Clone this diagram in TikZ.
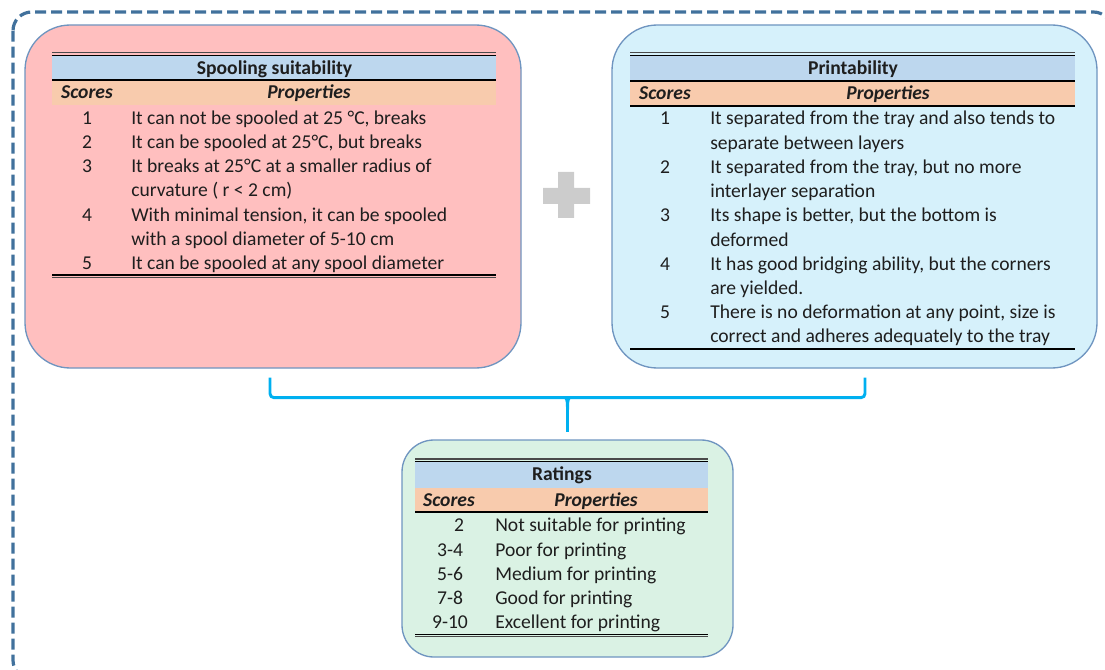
\documentclass[tikz,border=0pt]{standalone}
\usepackage{fontspec}
\setmainfont{Carlito}
\usepackage{tikz}
\usetikzlibrary{fit,calc}
\usepackage{xcolor}
\definecolor{frameblue}{HTML}{41719C}
\definecolor{edgeblue}{HTML}{6F95C0}
\definecolor{spoolbg}{HTML}{FFBFBF}
\definecolor{printbg}{HTML}{D6F1FB}
\definecolor{ratebg}{HTML}{DAF2E4}
\definecolor{titlebar}{HTML}{BDD7EE}
\definecolor{headbar}{HTML}{F8CBAD}
\definecolor{plusgray}{HTML}{CCCCCC}
\definecolor{bracecyan}{HTML}{00B0F0}
\definecolor{rulegray}{HTML}{4A4A4A}
\definecolor{dtext}{HTML}{1E1E1E}

\tikzset{
  frameline/.style={frameblue,line width=2.4pt,dash pattern=on 8.25pt off 3.75pt,rounded corners=14pt},
  panel/.style={draw=edgeblue,line width=1pt,inner sep=0pt},
  cell/.style={inner sep=0pt,anchor=base,text=dtext,font=\fontsize{14.7}{18}\selectfont},
  titlecell/.style={cell,font=\fontsize{14.7}{18}\selectfont\bfseries},
  headcell/.style={cell,font=\fontsize{14.7}{18}\selectfont\bfseries\itshape},
  propcell/.style={cell,anchor=base west},
  thinrule/.style={black,line width=0.9pt},
  greyrule/.style={rulegray,line width=0.9pt},
  bracestroke/.style={bracecyan,line width=2.2pt,rounded corners=3pt}
}

\begin{document}
\begin{tikzpicture}[x=0.75pt,y=-0.75pt]
        \useasboundingbox (0,0) rectangle (1105,670);
        \begin{scope}
          \clip (0,0) rectangle (1105,670);
          \draw[frameline] (13,12) rectangle (1112,679);
        \end{scope}

        % panels
        \node[panel,fill=spoolbg,rounded corners=34pt,fit={(25,25) (521,368)}] (spool) {};
        \node[panel,fill=printbg,rounded corners=34pt,fit={(612,25) (1097,368)}] (print) {};
        \node[panel,fill=ratebg,rounded corners=24pt,fit={(402,440) (733,657)}] (rate) {};

        % plus sign
        \fill[plusgray] (558,172) -- (574,172) -- (574,188) -- (590,188) -- (590,204) -- (574,204)
          -- (574,218) -- (558,218) -- (558,204) -- (543,204) -- (543,188) -- (558,188) -- cycle;

        % spooling table
        \fill[titlebar] (52,55.8) rectangle (496,80);
        \fill[headbar] (52,80) rectangle (496,105);
        \draw[greyrule] (52,52.8) -- (496,52.8);
        \draw[thinrule] (52,55.3) -- (496,55.3);
        \draw[thinrule] (52,80) -- (496,80);
        \draw[thinrule] (52,275) -- (496,275);
        \draw[greyrule] (52,277.5) -- (496,277.5);
        \node[titlecell] (spooltitle) at (274.5,75) {Spooling suitability};
        \node[headcell] (spoolscores) at (87,99) {Scores};
        \node[headcell] (spoolprops) at (309,99) {Properties};
        \foreach \y/\s in {125/1,149/2,173/3,221/4,269/5}{
          \node[cell] (spool-s\s) at (87,\y) {\s};
        }
        \foreach \y/\t [count=\i] in {
          125/{It can not be spooled at 25 °C, breaks},
          149/{It can be spooled at 25°C, but breaks},
          173/{It breaks at 25°C at a smaller radius of},
          197/{curvature ( r < 2 cm)},
          221/{With minimal tension, it can be spooled},
          245/{with a spool diameter of 5-10 cm},
          269/{It can be spooled at any spool diameter}
        }{
          \node[propcell] (spool-l\i) at (131,\y) {\t};
        }

        % printability table
        \fill[titlebar] (630,55.8) rectangle (1075,81);
        \fill[headbar] (630,81) rectangle (1075,106);
        \draw[greyrule] (630,52.8) -- (1075,52.8);
        \draw[thinrule] (630,55.3) -- (1075,55.3);
        \draw[thinrule] (630,81) -- (1075,81);
        \draw[thinrule] (630,106) -- (1075,106);
        \draw[black,line width=1.6pt] (630,349) -- (1075,349);
        \node[titlecell] (printtitle) at (853,75) {Printability};
        \node[headcell] (printscores) at (665,100) {Scores};
        \node[headcell] (printprops) at (888,100) {Properties};
        \foreach \y/\s in {125/1,173.4/2,221.8/3,270.2/4,318.6/5}{
          \node[cell] (print-s\s) at (665,\y) {\s};
        }
        \foreach \y/\t [count=\i] in {
          125/{It separated from the tray and also tends to},
          149.2/{separate between layers},
          173.4/{It separated from the tray, but no more},
          197.6/{interlayer separation},
          221.8/{Its shape is better, but the bottom is},
          246/{deformed},
          270.2/{It has good bridging ability, but the corners},
          294.4/{are yielded.},
          318.6/{There is no deformation at any point, size is},
          342.8/{correct and adheres adequately to the tray}
        }{
          \node[propcell] (print-l\i) at (710,\y) {\t};
        }

        % ratings table
        \fill[titlebar] (415,462) rectangle (708,488);
        \fill[headbar] (415,488) rectangle (708,512);
        \draw[greyrule] (415,459) -- (708,459);
        \draw[thinrule] (415,461.5) -- (708,461.5);
        \draw[thinrule] (415,512) -- (708,512);
        \draw[thinrule] (415,634.3) -- (708,634.3);
        \draw[greyrule] (415,636.8) -- (708,636.8);
        \node[titlecell] (ratetitle) at (562,480.7) {Ratings};
        \node[headcell] (ratescores) at (449,506.7) {Scores};
        \node[headcell] (rateprops) at (596,506.7) {Properties};
        \foreach \x/\y/\s/\t [count=\i] in {
          459/531.7/2/{Not suitable for printing},
          450/556/3-4/{Poor for printing},
          450/580.2/5-6/{Medium for printing},
          450/604.5/7-8/{Good for printing},
          450/628.7/9-10/{Excellent for printing}
        }{
          \node[cell] (rate-s\i) at (\x,\y) {\s};
          \node[propcell] (rate-l\i) at (495,\y) {\t};
        }

        % brace joining the two panels to the ratings
        \coordinate (bl) at ($(spool.south)+(-3,9)$);
        \coordinate (br) at ($(print.south)+(10.5,9)$);
        \coordinate (bm) at ($(bl)!0.5!(br)+(0,20)$);
        \coordinate (bt) at ($(rate.north)+(0,-7)$);
        \draw[bracestroke] (bl) |- (bm) -| (br);
        \draw[bracecyan,line width=2pt] (bm) -- (bt);
        \fill[bracecyan] ($(bm)+(-8,0)$) .. controls ($(bm)+(-1.5,0.5)$) .. ($(bm)+(-1.5,12)$)
          -- ($(bm)+(1.5,12)$) .. controls ($(bm)+(1.5,0.5)$) .. ($(bm)+(8,0)$) -- cycle;
      \end{tikzpicture}
\end{document}
